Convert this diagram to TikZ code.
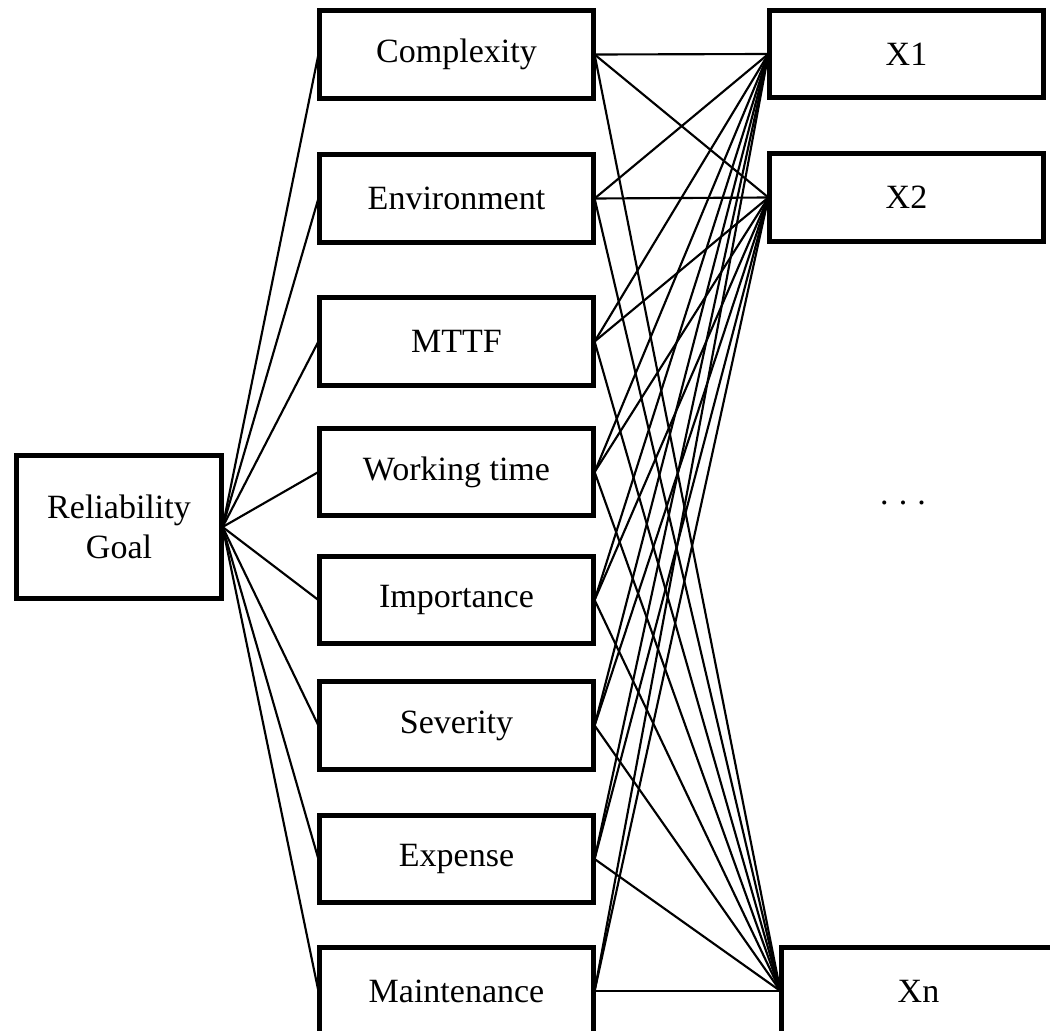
\documentclass[tikz,border=0pt]{standalone}
\usepackage{fontspec}
\setmainfont{Liberation Serif}
\begin{document}
\begin{tikzpicture}[x=0.75pt,y=-0.75pt,
  box/.style={draw=black,line width=2.4pt,rectangle,inner sep=0pt,
    font=\fontsize{25.5}{30}\selectfont,align=center,fill=white},
  goal/.style={box,minimum width=153pt,minimum height=106.5pt},
  factor/.style={box,minimum width=204.75pt,minimum height=64.5pt},
  item/.style={box,minimum width=204.75pt,minimum height=64.5pt},
  link/.style={line width=1.6pt,line cap=round}]
\useasboundingbox (0,0) rectangle (1050,1031);
\clip (0,0) rectangle (1050,1031);

% criteria in the middle column
\node[factor] (cx) at (456.5,54.5) {Complexity};
\node[factor] (en) at (456.5,198.5) {Environment};
\node[factor] (mt) at (456.5,341.5) {MTTF};
\node[factor] (wt) at (456.5,472) {Working time};
\node[factor] (im) at (456.5,600) {Importance};
\node[factor] (sv) at (456.5,725.5) {Severity};
\node[factor] (ex) at (456.5,859) {Expense};
\node[factor] (mn) at (456.5,991) {Maintenance};

% the goal on the left
\node[goal] (rg) at (119,527) {Reliability\\Goal};

% alternatives on the right
\node[item] (x1) at (906.5,54) {X1};
\node[item] (x2) at (906.5,197.5) {X2};
\node[item] (xn) at (918.5,991) {Xn};
\node[font=\fontsize{25.5}{30}\selectfont] (dots) at (903,503) {.\kern0.3em.\kern0.3em.};

% goal to every criterion
\foreach \f in {cx,en,mt,wt,im,sv,ex,mn}
  \draw[link] (rg.east) -- (\f.west);

% every criterion to every alternative
\foreach \f in {cx,en,mt,wt,im,sv,ex,mn}
  \foreach \a in {x1,x2,xn}
    \draw[link] (\f.east) -- (\a.west);

% redraw box outlines over the connector ends
\foreach \n in {cx,en,mt,wt,im,sv,ex,mn,rg,x1,x2,xn}
  \draw[line width=2.4pt] (\n.north west) rectangle (\n.south east);
\end{tikzpicture}
\end{document}
